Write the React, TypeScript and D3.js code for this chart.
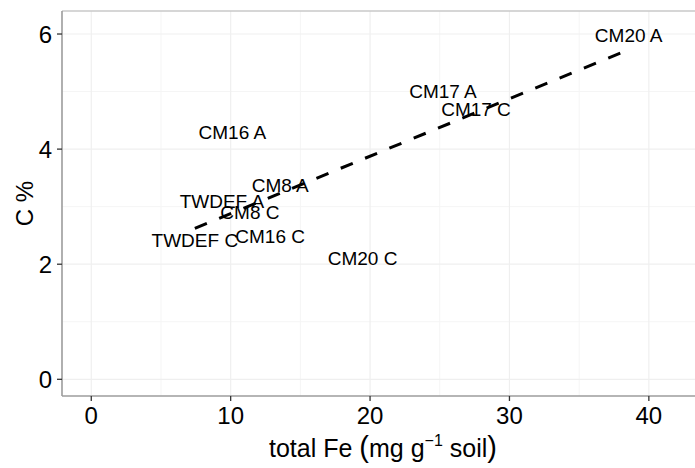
import React from "react";
import * as d3 from "d3";

const sites = ["CM20 A", "CM17 A", "CM17 C", "CM16 A", "CM8 A", "TWDEF A", "CM8 C", "TWDEF C", "CM16 C", "CM20 C"];
const totalFe = [38.55, 25.23, 27.6, 10.12, 13.56, 9.37, 11.38, 7.43, 12.83, 19.46];
const carbonPct = [5.98, 5.0, 4.69, 4.29, 3.38, 3.09, 2.9, 2.41, 2.49, 2.1];
const xTicks = [0, 10, 20, 30, 40];
const xMinor = [5, 15, 25, 35];
const yTicks = [0, 2, 4, 6];
const yMinor = [1, 3, 5];

const W = 695;
const H = 468;
const panel = { left: 62, top: 11, right: 706, bottom: 396 };
const FONT = "'Liberation Sans', Arial, Helvetica, sans-serif";

export default function App() {
  const x = d3.scaleLinear().domain([-2.1, 44.1]).range([panel.left, panel.right]);
  const y = d3.scaleLinear().domain([-0.29, 6.4]).range([panel.bottom, panel.top]);

  // linear regression (lm) over the data range
  const mx = d3.mean(totalFe)!;
  const my = d3.mean(carbonPct)!;
  let sxy = 0, sxx = 0;
  totalFe.forEach((v, i) => {
    sxy += (v - mx) * (carbonPct[i] - my);
    sxx += (v - mx) * (v - mx);
  });
  const slope = sxy / sxx;
  const intercept = my - slope * mx;
  const [x0, x1] = d3.extent(totalFe) as [number, number];
  const fit: [number, number][] = [x0, x1].map((v) => [v, intercept + slope * v]);
  const line = d3.line<[number, number]>().x((d) => x(d[0])).y((d) => y(d[1]));

  return (
    <svg width={W} height={H} style={{ position: "absolute", left: 0, top: 0, background: "#fff" }} fontFamily={FONT}>
      <defs>
        <clipPath id="pc">
          <rect x={panel.left} y={panel.top} width={panel.right - panel.left} height={panel.bottom - panel.top} />
        </clipPath>
      </defs>
      <rect x={0} y={0} width={W} height={H} fill="#fff" />
      <g clipPath="url(#pc)">
        {xMinor.map((t) => (
          <line key={"xm" + t} x1={x(t)} x2={x(t)} y1={panel.top} y2={panel.bottom} stroke="#F5F5F5" strokeWidth={1} />
        ))}
        {yMinor.map((t) => (
          <line key={"ym" + t} y1={y(t)} y2={y(t)} x1={panel.left} x2={panel.right} stroke="#F5F5F5" strokeWidth={1} />
        ))}
        {xTicks.map((t) => (
          <line key={"xg" + t} x1={x(t)} x2={x(t)} y1={panel.top} y2={panel.bottom} stroke="#EFEFEF" strokeWidth={1.2} />
        ))}
        {yTicks.map((t) => (
          <line key={"yg" + t} y1={y(t)} y2={y(t)} x1={panel.left} x2={panel.right} stroke="#EFEFEF" strokeWidth={1.2} />
        ))}
        <path d={line(fit)!} fill="none" stroke="#000" strokeWidth={3} strokeDasharray="13 13.3" />
        {sites.map((s, i) => (
          <text key={s} x={x(totalFe[i])} y={y(carbonPct[i])} dy="0.36em" textAnchor="middle" fontSize={19} fill="#000">
            {s}
          </text>
        ))}
      </g>
      {/* panel border */}
      <line x1={panel.left} x2={panel.right} y1={panel.top} y2={panel.top} stroke="#C8C8C8" strokeWidth={1.5} />
      <line x1={panel.left} x2={panel.left} y1={panel.top} y2={panel.bottom} stroke="#9C9C9C" strokeWidth={1.6} />
      <line x1={panel.left} x2={panel.right} y1={panel.bottom} y2={panel.bottom} stroke="#9C9C9C" strokeWidth={1.6} />
      {/* ticks */}
      {xTicks.map((t) => (
        <g key={"xt" + t}>
          <line x1={x(t)} x2={x(t)} y1={panel.bottom} y2={panel.bottom + 5} stroke="#333" strokeWidth={1.3} />
          <text x={x(t)} y={424} textAnchor="middle" fontSize={24} fill="#000">
            {t}
          </text>
        </g>
      ))}
      {yTicks.map((t) => (
        <g key={"yt" + t}>
          <line x1={panel.left - 5} x2={panel.left} y1={y(t)} y2={y(t)} stroke="#333" strokeWidth={1.3} />
          <text x={52} y={y(t)} dy="0.36em" textAnchor="end" fontSize={24} fill="#000">
            {t}
          </text>
        </g>
      ))}
      <text x={383} y={456.5} textAnchor="middle" fontSize={25} fill="#000">
        {"total Fe "}
        <tspan fontSize={29}>(</tspan>
        {"mg g"}
        <tspan fontSize={16} dy={-11}>{"\u22121"}</tspan>
        <tspan dy={11}>{" soil"}</tspan>
        <tspan fontSize={29}>)</tspan>
      </text>
      <text transform={`translate(33, ${(panel.top + panel.bottom) / 2}) rotate(-90)`} textAnchor="middle" fontSize={24} fill="#000">
        C %
      </text>
    </svg>
  );
}
